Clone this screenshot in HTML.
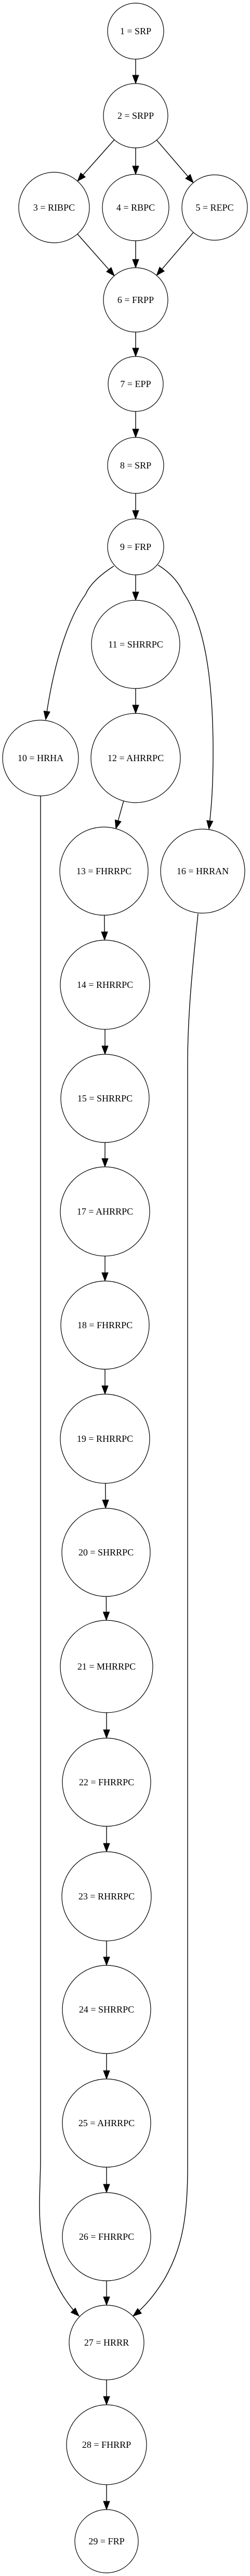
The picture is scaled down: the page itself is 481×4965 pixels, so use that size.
<!DOCTYPE html>
<html><head><meta charset="utf-8">
<style>
html,body{margin:0;padding:0;background:#fff;}
svg{display:block;}
text{font-family:"Liberation Serif",serif;font-size:18px;fill:#000;}
</style></head>
<body>
<svg id="g" width="481" height="4965" viewBox="0 0 481 4965" xmlns="http://www.w3.org/2000/svg">
<rect width="481" height="4965" fill="#fff"/>
</svg>
<script>
const nodeLabels=["1 = SRP","2 = SRPP","3 = RIBPC","4 = RBPC","5 = REPC","6 = FRPP","7 = EPP","8 = SRP","9 = FRP","10 = HRHA","11 = SHRRPC","12 = AHRRPC","13 = FHRRPC","14 = RHRRPC","15 = SHRRPC","16 = HRRAN","17 = AHRRPC","18 = FHRRPC","19 = RHRRPC","20 = SHRRPC","21 = MHRRPC","22 = FHRRPC","23 = RHRRPC","24 = SHRRPC","25 = AHRRPC","26 = FHRRPC","27 = HRRR","28 = FHRRP","29 = FRP"];
const nodeX=[261,261,104,261,413,261,261,261,261,78,261,261,200,202,202,390,202,202,202,204,205,205,205,205,205,205,205,205,205];
const nodeY=[60,223,400,400,400,578,740,897,1054,1461,1242,1461,1679,1898,2117,1679,2335,2554,2773,2992,3212,3435,3655,3873,4092,4311,4515,4712,4898];
const nodeR=[54,62,68,64,63,62,53,54,54,73,85,86,85,86,85,81,86,85,86,85,89,85,86,85,85,85,72,77,61];
const straightEdges=[[1,2],[2,3],[2,4],[2,5],[3,6],[4,6],[5,6],[6,7],[7,8],[8,9],[9,11],[11,12],[12,13],[13,14],[14,15],[15,17],[17,18],[18,19],[19,20],[20,21],[21,22],[22,23],[23,24],[24,25],[25,26],[26,27],[27,28],[28,29]];
const curvedEdges=[
 {from:9,to:10,d:"M219,1091 C190,1110 172,1128 165,1145 C125,1200 100,1300 88,1387"},
 {from:9,to:16,d:"M304,1089 C330,1105 345,1125 352,1141 C392,1200 410,1300 410,1450 C410,1530 405,1570 402,1598"},
 {from:10,to:27,d:"M78,1534 L78,4170 C76,4250 72,4290 88,4350 C105,4405 128,4440 152,4464"},
 {from:16,to:27,d:"M381,1761 C372,1850 361,1950 361,2050 L361,4180 C361,4290 345,4340 318,4390 C300,4420 280,4445 256,4464"}
];
const NS="http://www.w3.org/2000/svg";
const svg=document.getElementById('g');
function arrow(tx,ty,dx,dy){
  const L=Math.hypot(dx,dy),ux=dx/L,uy=dy/L,len=16,w=6;
  const bx=tx-ux*len,by=ty-uy*len;
  const p=document.createElementNS(NS,'polygon');
  p.setAttribute('points',`${tx},${ty} ${bx-uy*w},${by+ux*w} ${bx+uy*w},${by-ux*w}`);
  p.setAttribute('fill','#000');p.setAttribute('stroke','#000');
  
  
  svg.appendChild(p);
}
straightEdges.forEach(([a,b])=>{
  const i=a-1,j=b-1;
  const dx=nodeX[j]-nodeX[i],dy=nodeY[j]-nodeY[i],L=Math.hypot(dx,dy);
  const ux=dx/L,uy=dy/L;
  const sx=nodeX[i]+ux*nodeR[i],sy=nodeY[i]+uy*nodeR[i];
  const tx=nodeX[j]-ux*nodeR[j],ty=nodeY[j]-uy*nodeR[j];
  const l=document.createElementNS(NS,'line');
  l.setAttribute('x1',sx);l.setAttribute('y1',sy);l.setAttribute('x2',tx-ux*10);l.setAttribute('y2',ty-uy*10);
  l.setAttribute('stroke','#000');l.setAttribute('stroke-width','1.4');
  
  
  svg.appendChild(l);
  arrow(tx,ty,dx,dy);
});
curvedEdges.forEach(e=>{
  const p=document.createElementNS(NS,'path');
  p.setAttribute('d',e.d);p.setAttribute('fill','none');p.setAttribute('stroke','#000');p.setAttribute('stroke-width','1.4');
  
  
  svg.appendChild(p);
  const n=e.d.match(/-?[\d.]+/g).map(Number);
  const tx=n[n.length-2],ty=n[n.length-1],cx=n[n.length-4],cy=n[n.length-3];
  arrow(tx,ty,tx-cx,ty-cy);
});
nodeLabels.forEach((lab,i)=>{
  const g=document.createElementNS(NS,'g');
  
  
  const c=document.createElementNS(NS,'circle');
  c.setAttribute('cx',nodeX[i]);c.setAttribute('cy',nodeY[i]);c.setAttribute('r',nodeR[i]);
  c.setAttribute('fill','#fff');c.setAttribute('stroke','#000');c.setAttribute('stroke-width','1.2');
  g.appendChild(c);
  const t=document.createElementNS(NS,'text');
  t.setAttribute('x',nodeX[i]);t.setAttribute('y',nodeY[i]+6);t.setAttribute('text-anchor','middle');
  t.textContent=lab;
  g.appendChild(t);
  svg.appendChild(g);
});
</script>
</body></html>
